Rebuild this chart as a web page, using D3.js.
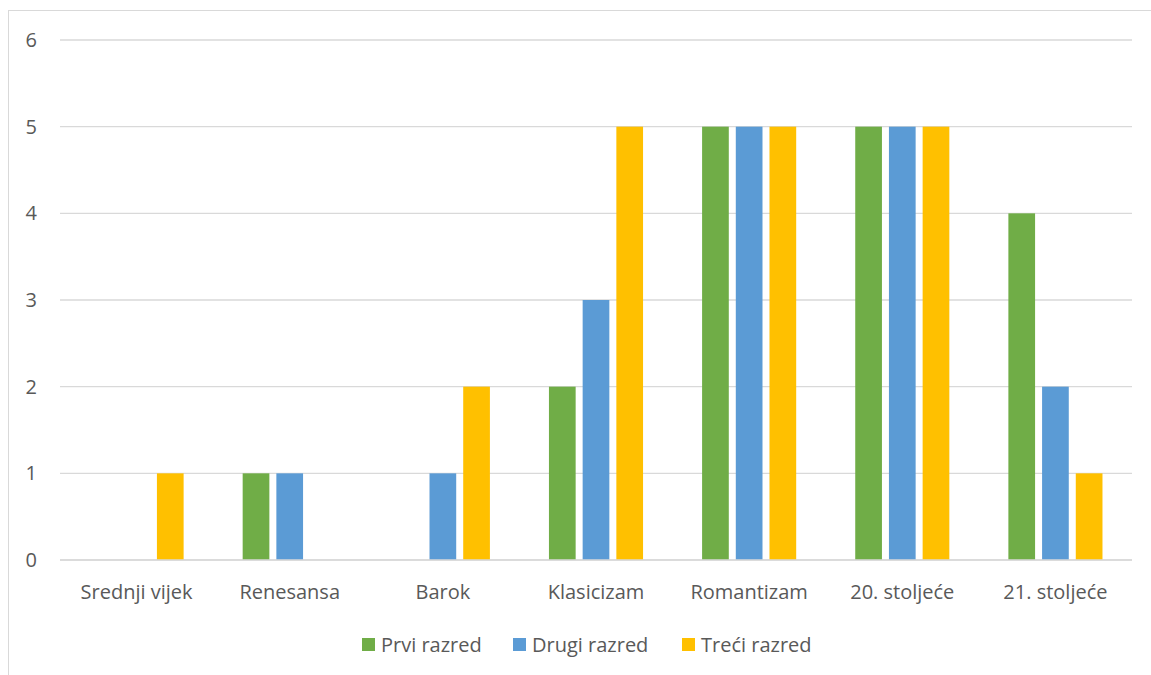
<!DOCTYPE html>
<html><head><meta charset="utf-8">
<script src="https://cdn.jsdelivr.net/npm/d3@7/dist/d3.min.js"></script>
<style>body{margin:0;background:#fff;} svg{display:block;font-family:"Open Sans",sans-serif;}</style>
</head><body>
<svg id="c" width="1151" height="675"></svg>
<script>
const categories = ["Srednji vijek","Renesansa","Barok","Klasicizam","Romantizam","20. stoljeće","21. stoljeće"];
const seriesNames = ["Prvi razred","Drugi razred","Treći razred"];
const prvi = [0,1,0,2,5,5,4];
const drugi = [0,1,1,3,5,5,2];
const treci = [1,0,2,5,5,5,1];
const yTicks = [0,1,2,3,4,5,6];
const colors = ["#70AD47","#5B9BD5","#FFC000"];
const values = [prvi, drugi, treci];

const svg = d3.select("#c");
svg.append("rect").attr("x",8.5).attr("y",10.5).attr("width",1150).attr("height",700)
  .attr("fill","#fff").attr("stroke","#d9d9d9").attr("stroke-width",1);

const x = d3.scaleBand().domain(categories).range([60,1132]);
const y = d3.scaleLinear().domain([0,6]).range([560,40]);

const g = svg.append("g");
g.selectAll("line.grid").data(yTicks).join("line")
  .attr("x1",60).attr("x2",1132).attr("y1",d=>y(d)).attr("y2",d=>y(d))
  .attr("stroke","#d9d9d9").attr("stroke-width",1.3);

g.selectAll("text.yl").data(yTicks).join("text")
  .attr("x",37).attr("y",d=>y(d)).attr("dy","0.35em").attr("text-anchor","end")
  .attr("fill","#595959").attr("font-size",20).text(d=>d);

const bw = 26.7, gap = 7;
const x1 = d3.scaleLinear().domain([-1,1]).range([-(bw+gap),(bw+gap)]);
seriesNames.forEach((s,si)=>{
  g.selectAll("rect.s"+si).data(categories).join("rect")
    .attr("x",(c,i)=>x(c)+x.bandwidth()/2+x1(si-1)-bw/2)
    .attr("y",(c,i)=>y(values[si][i]))
    .attr("width",bw)
    .attr("height",(c,i)=>y(0)-y(values[si][i]))
    .attr("fill",colors[si]);
});
g.append("line").attr("x1",60).attr("x2",1132).attr("y1",y(0)).attr("y2",y(0))
  .attr("stroke","#d9d9d9").attr("stroke-width",1.3);

g.selectAll("text.xl").data(categories).join("text")
  .attr("x",c=>x(c)+x.bandwidth()/2).attr("y",599)
  .attr("text-anchor","middle").attr("fill","#595959").attr("font-size",20).text(c=>c);

const legX = [362,513,682];
const lg = svg.append("g");
seriesNames.forEach((s,i)=>{
  lg.append("rect").attr("x",legX[i]).attr("y",638).attr("width",13).attr("height",13).attr("fill",colors[i]);
  lg.append("text").attr("x",legX[i]+19).attr("y",645).attr("dy","0.35em")
    .attr("fill","#595959").attr("font-size",20).text(s);
});
</script>
</body></html>
